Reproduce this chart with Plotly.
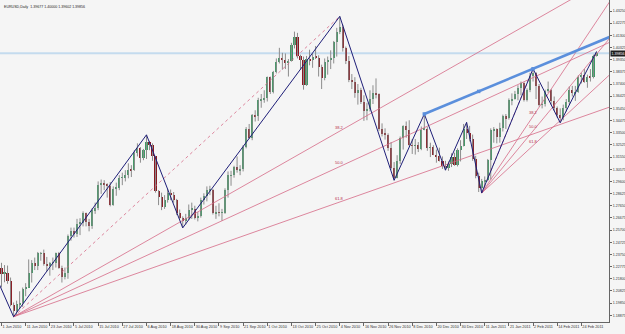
import plotly.graph_objects as go

# ---------------- DATA (EURUSD daily, bar index 0 = 1 Jun 2010) ----------------
opens = [
    # Jun 2010
    1.2270, 1.2220, 1.2230, 1.2165, 1.1968, 1.1920, 1.1975, 1.1990, 1.2100, 1.2110, 1.2225,
    1.2310, 1.2285, 1.2385, 1.2385, 1.2300, 1.2285, 1.2310, 1.2310, 1.2385, 1.2270, 1.2195,
    # Jul
    1.2230, 1.2520, 1.2565, 1.2540, 1.2620, 1.2630, 1.2705, 1.2635, 1.2605, 1.2730, 1.2745,
    1.2935, 1.2945, 1.2935, 1.2925, 1.2775, 1.2900, 1.2910, 1.2990, 1.2990, 1.3010, 1.3055,
    # Aug
    1.3050, 1.3190, 1.3225, 1.3150, 1.3210, 1.3275, 1.3250, 1.3160, 1.2880, 1.2835, 1.2755,
    1.2815, 1.2870, 1.2850, 1.2815, 1.2710, 1.2665, 1.2650, 1.2665, 1.2735, 1.2740, 1.2670,
    # Sep
    1.2680, 1.2810, 1.2840, 1.2890, 1.2895, 1.2705, 1.2715, 1.2710, 1.2710, 1.2895, 1.3010,
    1.3010, 1.3075, 1.3050, 1.3060, 1.3235, 1.3380, 1.3305, 1.3490, 1.3480, 1.3610, 1.3615,
    # Oct
    1.3630, 1.3795, 1.3675, 1.3835, 1.3920, 1.3950, 1.3935, 1.3908, 1.3925, 1.4055, 1.4120,
    1.3965, 1.3935, 1.3735, 1.3940, 1.3930, 1.3960, 1.3950, 1.3875, 1.3785, 1.3915,
    # Nov
    1.3935, 1.3950, 1.4075, 1.4155, 1.4200, 1.4030, 1.3925, 1.3775, 1.3760, 1.3665, 1.3695,
    1.3600, 1.3525, 1.3540, 1.3620, 1.3670, 1.3660, 1.3380, 1.3340, 1.3335, 1.3230, 1.3070,
    # Dec
    1.2985, 1.3125, 1.3305, 1.3400, 1.3375, 1.3250, 1.3245, 1.3250, 1.3220, 1.3375, 1.3380,
    1.3230, 1.3235, 1.3175, 1.3160, 1.3125, 1.3085, 1.3065, 1.3100, 1.3155, 1.3090, 1.3210, 1.3240,
    # Jan 2011
    1.3380, 1.3350, 1.3300, 1.3140, 1.3000, 1.2905, 1.2960, 1.2975, 1.3130, 1.3370, 1.3380,
    1.3315, 1.3385, 1.3480, 1.3465, 1.3610, 1.3620, 1.3660, 1.3710, 1.3750, 1.3610,
    # Feb
    1.3695, 1.3805, 1.3830, 1.3725, 1.3575, 1.3580, 1.3685, 1.3695, 1.3605, 1.3550,
    1.3495, 1.3470, 1.3550, 1.3600, 1.3695, 1.3665, 1.3675, 1.3800, 1.3810, 1.3755,
    # Mar
    1.3800, 1.3795, 1.39677,
]
highs = [
    1.2308, 1.2290, 1.2286, 1.2190, 1.1990, 1.2005, 1.2080, 1.2110, 1.2145, 1.2335, 1.2330,
    1.2350, 1.2395, 1.2395, 1.2414, 1.2355, 1.2315, 1.2350, 1.2390, 1.2395, 1.2285, 1.2270,
    1.2535, 1.2590, 1.2590, 1.2660, 1.2665, 1.2720, 1.2710, 1.2660, 1.2745, 1.2790, 1.2960,
    1.2975, 1.2970, 1.2945, 1.2955, 1.2920, 1.2950, 1.3010, 1.3030, 1.3050, 1.3105, 1.3090,
    1.3210, 1.3265, 1.3235, 1.3220, 1.3333, 1.3285, 1.3265, 1.3165, 1.2890, 1.2870, 1.2850,
    1.2900, 1.2895, 1.2875, 1.2820, 1.2735, 1.2680, 1.2700, 1.2775, 1.2790, 1.2765, 1.2715,
    1.2830, 1.2865, 1.2920, 1.2925, 1.2900, 1.2765, 1.2785, 1.2740, 1.2905, 1.3040, 1.3045,
    1.3085, 1.3160, 1.3090, 1.3250, 1.3395, 1.3420, 1.3500, 1.3530, 1.3630, 1.3660, 1.3690,
    1.3800, 1.3800, 1.3845, 1.3945, 1.4030, 1.3990, 1.3985, 1.3940, 1.4070, 1.4160, 1.4150,
    1.3975, 1.3960, 1.3965, 1.4015, 1.3985, 1.4045, 1.3970, 1.3895, 1.3945, 1.3960,
    1.4010, 1.4085, 1.4190, 1.4282, 1.4215, 1.4040, 1.3965, 1.3820, 1.3795, 1.3740, 1.3710,
    1.3650, 1.3590, 1.3690, 1.3730, 1.3785, 1.3665, 1.3425, 1.3385, 1.3345, 1.3275, 1.3115,
    1.3170, 1.3320, 1.3410, 1.3440, 1.3450, 1.3300, 1.3300, 1.3275, 1.3400, 1.3500, 1.3395,
    1.3270, 1.3250, 1.3215, 1.3230, 1.3160, 1.3125, 1.3120, 1.3185, 1.3190, 1.3225, 1.3290, 1.3420,
    1.3433, 1.3405, 1.3335, 1.3165, 1.3030, 1.2980, 1.3000, 1.3140, 1.3385, 1.3395, 1.3385,
    1.3430, 1.3495, 1.3500, 1.3625, 1.3665, 1.3685, 1.3730, 1.3760, 1.3755, 1.3705,
    1.3830, 1.3862, 1.3835, 1.3740, 1.3640, 1.3695, 1.3760, 1.3700, 1.3640, 1.3560,
    1.3545, 1.3575, 1.3620, 1.3720, 1.3725, 1.3725, 1.3810, 1.3830, 1.3860, 1.3815,
    1.3860, 1.3975, 1.40000,
]
lows = [
    1.2111, 1.2152, 1.2140, 1.1960, 1.1876, 1.1888, 1.1940, 1.1955, 1.2040, 1.2110, 1.2150,
    1.2250, 1.2250, 1.2325, 1.2285, 1.2240, 1.2205, 1.2250, 1.2270, 1.2260, 1.2150, 1.2175,
    1.2180, 1.2485, 1.2510, 1.2515, 1.2530, 1.2600, 1.2600, 1.2560, 1.2580, 1.2700, 1.2730,
    1.2860, 1.2890, 1.2830, 1.2760, 1.2765, 1.2845, 1.2890, 1.2930, 1.2960, 1.2985, 1.2995,
    1.3045, 1.3160, 1.3110, 1.3130, 1.3140, 1.3210, 1.3125, 1.2870, 1.2770, 1.2730, 1.2740,
    1.2790, 1.2810, 1.2790, 1.2690, 1.2660, 1.2588, 1.2615, 1.2650, 1.2660, 1.2655, 1.2640,
    1.2670, 1.2775, 1.2800, 1.2850, 1.2695, 1.2660, 1.2680, 1.2645, 1.2700, 1.2830, 1.2925,
    1.2990, 1.3030, 1.3010, 1.3040, 1.3225, 1.3300, 1.3290, 1.3440, 1.3445, 1.3550, 1.3590,
    1.3600, 1.3660, 1.3665, 1.3825, 1.3905, 1.3855, 1.3860, 1.3800, 1.3920, 1.4025, 1.3945,
    1.3855, 1.3695, 1.3725, 1.3890, 1.3870, 1.3940, 1.3800, 1.3700, 1.3770, 1.3815,
    1.3860, 1.3905, 1.3960, 1.4140, 1.4000, 1.3900, 1.3755, 1.3700, 1.3630, 1.3575, 1.3580,
    1.3445, 1.3450, 1.3520, 1.3580, 1.3625, 1.3365, 1.3320, 1.3295, 1.3205, 1.3055, 1.2969,
    1.2985, 1.3100, 1.3215, 1.3310, 1.3240, 1.3180, 1.3175, 1.3195, 1.3210, 1.3370, 1.3205,
    1.3155, 1.3170, 1.3110, 1.3120, 1.3060, 1.3050, 1.3045, 1.3075, 1.3085, 1.3080, 1.3120, 1.3240,
    1.3300, 1.3280, 1.3125, 1.2985, 1.2875, 1.2867, 1.2905, 1.2960, 1.2975, 1.3270, 1.3265,
    1.3270, 1.3360, 1.3380, 1.3455, 1.3570, 1.3615, 1.3610, 1.3650, 1.3600, 1.3600,
    1.3675, 1.3760, 1.3620, 1.3560, 1.3545, 1.3560, 1.3670, 1.3575, 1.3525, 1.3470,
    1.3430, 1.3450, 1.3520, 1.3575, 1.3640, 1.3605, 1.3670, 1.3745, 1.3750, 1.3710,
    1.3760, 1.3785, 1.39602,
]
closes = [
    1.2220, 1.2230, 1.2165, 1.1968, 1.1920, 1.1975, 1.1990, 1.2100, 1.2110, 1.2225, 1.2310,
    1.2285, 1.2385, 1.2385, 1.2300, 1.2285, 1.2310, 1.2310, 1.2385, 1.2270, 1.2195, 1.2230,
    1.2520, 1.2565, 1.2540, 1.2620, 1.2630, 1.2705, 1.2635, 1.2605, 1.2730, 1.2745, 1.2935,
    1.2945, 1.2935, 1.2925, 1.2775, 1.2900, 1.2910, 1.2990, 1.2990, 1.3010, 1.3055, 1.3050,
    1.3190, 1.3225, 1.3150, 1.3210, 1.3275, 1.3250, 1.3160, 1.2880, 1.2835, 1.2755, 1.2815,
    1.2870, 1.2850, 1.2815, 1.2710, 1.2665, 1.2650, 1.2665, 1.2735, 1.2740, 1.2670, 1.2680,
    1.2810, 1.2840, 1.2890, 1.2895, 1.2705, 1.2715, 1.2710, 1.2710, 1.2895, 1.3010, 1.3010,
    1.3075, 1.3050, 1.3060, 1.3235, 1.3380, 1.3305, 1.3490, 1.3480, 1.3610, 1.3615, 1.3630,
    1.3795, 1.3675, 1.3835, 1.3920, 1.3950, 1.3935, 1.3908, 1.3925, 1.4055, 1.4120, 1.3965,
    1.3935, 1.3735, 1.3940, 1.3930, 1.3960, 1.3950, 1.3875, 1.3785, 1.3915, 1.3935,
    1.3950, 1.4075, 1.4155, 1.4200, 1.4030, 1.3925, 1.3775, 1.3760, 1.3665, 1.3695, 1.3600,
    1.3525, 1.3540, 1.3620, 1.3670, 1.3660, 1.3380, 1.3340, 1.3335, 1.3230, 1.3070, 1.2985,
    1.3125, 1.3305, 1.3400, 1.3375, 1.3250, 1.3245, 1.3250, 1.3220, 1.3375, 1.3380, 1.3230,
    1.3235, 1.3175, 1.3160, 1.3125, 1.3085, 1.3065, 1.3100, 1.3155, 1.3090, 1.3210, 1.3240, 1.3380,
    1.3350, 1.3300, 1.3140, 1.3000, 1.2905, 1.2960, 1.2975, 1.3130, 1.3370, 1.3380, 1.3315,
    1.3385, 1.3480, 1.3465, 1.3610, 1.3620, 1.3660, 1.3710, 1.3750, 1.3610, 1.3695,
    1.3805, 1.3830, 1.3725, 1.3575, 1.3580, 1.3685, 1.3695, 1.3605, 1.3550, 1.3495,
    1.3470, 1.3550, 1.3600, 1.3695, 1.3665, 1.3675, 1.3800, 1.3810, 1.3755, 1.3800,
    1.3795, 1.3968, 1.39856,
]

# date axis labels (every 8th bar)
date_tick_idx = [0, 8, 16, 24, 32, 40, 48, 56, 64, 72, 80, 88, 96, 104, 112,
                 120, 128, 136, 144, 152, 160, 168, 176, 184, 192]
date_tick_text = ["1 Jun 2010", "11 Jun 2010", "23 Jun 2010", "5 Jul 2010", "15 Jul 2010",
                  "27 Jul 2010", "6 Aug 2010", "18 Aug 2010", "30 Aug 2010", "9 Sep 2010",
                  "21 Sep 2010", "1 Oct 2010", "13 Oct 2010", "25 Oct 2010", "4 Nov 2010",
                  "16 Nov 2010", "26 Nov 2010", "8 Dec 2010", "20 Dec 2010", "30 Dec 2010",
                  "11 Jan 2011", "21 Jan 2011", "2 Feb 2011", "14 Feb 2011", "24 Feb 2011"]

price_tick_text = ["1.43250", "1.42275", "1.41300", "1.40325", "1.39350", "1.38375",
                   "1.37400", "1.36425", "1.35450", "1.34475", "1.33500", "1.32525",
                   "1.31550", "1.30575", "1.29600", "1.28625", "1.27650", "1.26675",
                   "1.25700", "1.24725", "1.23750", "1.22775", "1.21800", "1.20825",
                   "1.19850", "1.18875"]

# zigzag swing points
zigzag_idx = [-3, 4, 48, 60, 112, 130, 140, 147, 154, 159, 176, 185, 197]
zigzag_price = [1.2260, 1.1876, 1.3333, 1.2588, 1.4282, 1.2969, 1.3500, 1.3050,
                1.3433, 1.2867, 1.3862, 1.3430, 1.4000]

# Fibonacci fans: anchor A (low) -> B (high)
fan_a_idx = [4, 159]
fan_a_price = [1.1876, 1.2867]
fan_b_idx = [112, 176]
fan_b_price = [1.4282, 1.3862]
fib_levels = [38.2, 50.0, 61.8]

# trend line (thick blue)
trend_idx = [140, 176]
trend_price = [1.3500, 1.3862]

bid_price = 1.39856
title_text = "EURUSD,Daily  1.39677 1.40000 1.39602 1.39856"

# ---------------- FIGURE ----------------
X_END = 206
n = len(closes)
idx = list(range(n))

fig = go.Figure()

# wicks
wx, wy = [], []
for i in idx:
    wx += [i, i, None]
    wy += [lows[i], highs[i], None]
fig.add_trace(go.Scatter(x=wx, y=wy, mode="lines",
                         line=dict(color="#8c8c8c", width=1), hoverinfo="skip"))

# bodies
bx, bh, bb = [], [], []
sx, sh, sb = [], [], []
for i in idx:
    o, c = opens[i], closes[i]
    if c >= o:
        bx.append(i); bh.append(max(c - o, 0.00012)); bb.append(o)
    else:
        sx.append(i); sh.append(o - c); sb.append(c)
fig.add_trace(go.Bar(x=bx, y=bh, base=bb, width=0.7, marker=dict(color="#3e9a64", line=dict(width=0))))
fig.add_trace(go.Bar(x=sx, y=sh, base=sb, width=0.7, marker=dict(color="#8a1a22", line=dict(width=0))))

# Fibonacci fans
fan_color = "#d66a86"
annotations = []
for k in range(len(fan_a_idx)):
    ia, pa, ib, pb = fan_a_idx[k], fan_a_price[k], fan_b_idx[k], fan_b_price[k]
    fig.add_trace(go.Scatter(x=[ia, ib], y=[pa, pb], mode="lines",
                             line=dict(color=fan_color, width=0.8, dash="dot"), hoverinfo="skip"))
    for lv in fib_levels:
        pl = pb - lv / 100.0 * (pb - pa)
        slope = (pl - pa) / (ib - ia)
        fig.add_trace(go.Scatter(x=[ia, X_END], y=[pa, pa + slope * (X_END - ia)], mode="lines",
                                 line=dict(color=fan_color, width=0.8), hoverinfo="skip"))
        annotations.append(dict(x=ib, y=pl, xref="x", yref="y", text="%.1f" % lv,
                                showarrow=False, yshift=4,
                                font=dict(size=4, color="#b8304c", family="Liberation Sans")))

# zigzag
fig.add_trace(go.Scatter(x=zigzag_idx, y=zigzag_price, mode="lines",
                         line=dict(color="#1e1e78", width=1), hoverinfo="skip"))

# thick blue trend line (extended)
tslope = (trend_price[1] - trend_price[0]) / (trend_idx[1] - trend_idx[0])
fig.add_trace(go.Scatter(x=[trend_idx[0], X_END],
                         y=[trend_price[0], trend_price[0] + tslope * (X_END - trend_idx[0])],
                         mode="lines", line=dict(color="#5b8fdc", width=2.6), hoverinfo="skip"))
mid_i = (trend_idx[0] + trend_idx[1]) / 2
fig.add_trace(go.Scatter(x=[trend_idx[0], mid_i, trend_idx[1]],
                         y=[trend_price[0], (trend_price[0] + trend_price[1]) / 2, trend_price[1]],
                         mode="markers", marker=dict(symbol="square", size=3.5, color="#5b8fdc"),
                         hoverinfo="skip"))

# bid line
fig.add_shape(type="line", xref="paper", yref="y", x0=0, x1=1, y0=bid_price, y1=bid_price,
              line=dict(color="#c4dbee", width=2), layer="below")

annotations.append(dict(x=0.003, y=0.992, xref="paper", yref="paper", xanchor="left", yanchor="top",
                        text=title_text, showarrow=False,
                        font=dict(size=3.6, color="#222222", family="Liberation Sans")))
annotations.append(dict(x=1.0, y=bid_price, xref="paper", yref="y", xanchor="left", yanchor="middle",
                        xshift=1, text="1.39856", showarrow=False, bgcolor="#1e1e1e",
                        borderpad=0.5,
                        font=dict(size=3.6, color="#ffffff", family="Liberation Sans")))

price_tick_vals = [float(t) for t in price_tick_text]

fig.update_layout(
    width=625, height=334,
    margin=dict(l=0, r=16, t=0, b=12),
    paper_bgcolor="#f5f5f5", plot_bgcolor="#f5f5f5",
    showlegend=False, barmode="overlay", bargap=0,
    annotations=annotations,
    xaxis=dict(range=[-0.5, 201.15], showgrid=False, zeroline=False,
               showline=True, linecolor="#666666", linewidth=1,
               ticks="outside", ticklen=3, tickcolor="#666666", tickangle=0,
               tickvals=date_tick_idx, ticktext=date_tick_text,
               ticklabelposition="outside right", automargin=False,
               tickfont=dict(size=3.8, color="#333333", family="Liberation Sans")),
    yaxis=dict(range=[1.18339, 1.44131], side="right", showgrid=False, zeroline=False,
               showline=True, linecolor="#666666", linewidth=1,
               ticks="outside", ticklen=2, tickcolor="#666666", ticklabelstandoff=0,
               tickvals=price_tick_vals, ticktext=price_tick_text, automargin=False,
               tickfont=dict(size=3.6, color="#333333", family="Liberation Sans")),
)

fig.write_html("out.html", config={"displayModeBar": False})
